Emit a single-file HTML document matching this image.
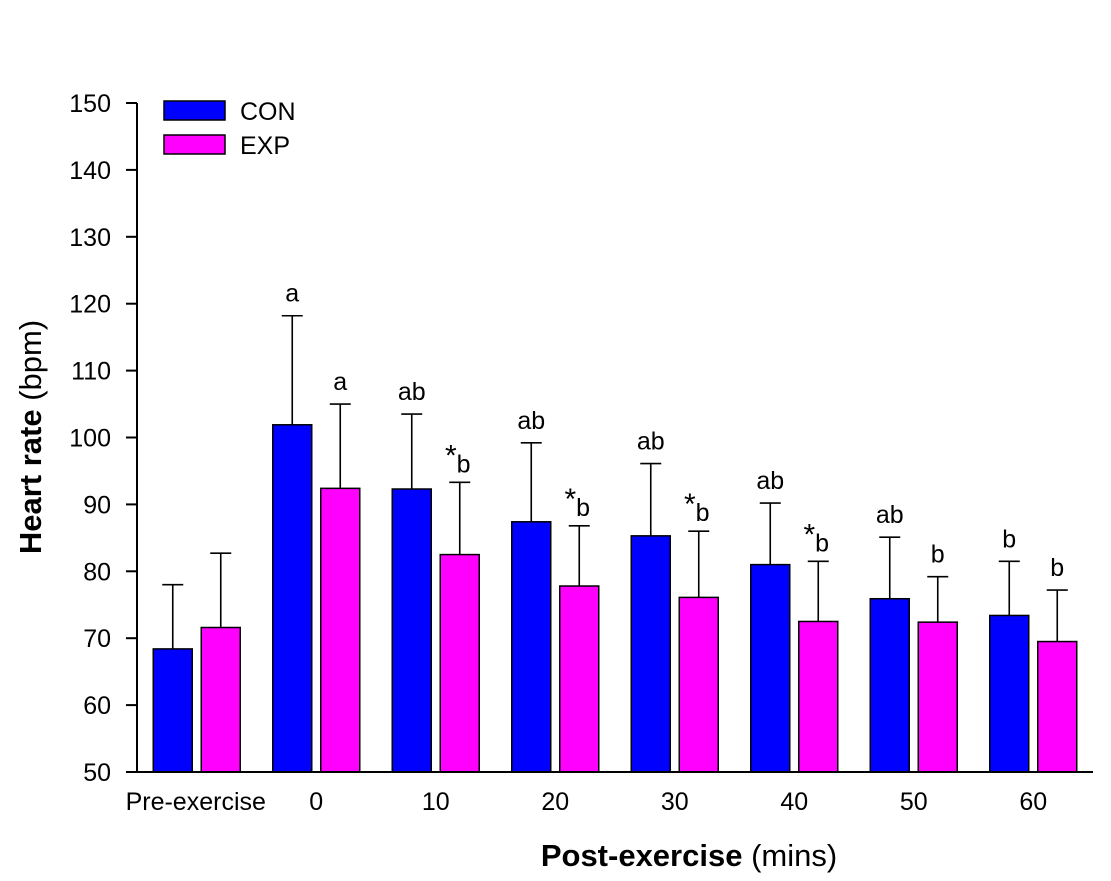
<!DOCTYPE html>
<html><head><meta charset="utf-8"><style>
html,body{margin:0;padding:0;background:#fff;}
svg{display:block;font-family:"Liberation Sans",Arial,sans-serif;}
</style></head><body>
<svg id="chart" width="1111" height="881" viewBox="0 0 1111 881"></svg>
<script>
const categories = ["Pre-exercise","0","10","20","30","40","50","60"];
const conValues = [68.4,101.9,92.3,87.4,85.3,81.0,75.9,73.4];
const conErrTop = [78.0,118.2,103.5,99.2,96.1,90.2,85.1,81.5];
const expValues = [71.6,92.4,82.5,77.8,76.1,72.5,72.4,69.5];
const expErrTop = [82.7,105.0,93.3,86.8,86.0,81.5,79.2,77.2];
const conLabels = ["","a","ab","ab","ab","ab","ab","b"];
const expLabels = ["","a","*b","*b","*b","*b","b","b"];
const yTicks = [50,60,70,80,90,100,110,120,130,140,150];

const NS="http://www.w3.org/2000/svg";
const svg=document.getElementById('chart');
const X0=137,X1=1093,Y0=772,Y1=103,YMIN=50,YMAX=150;
const pitch=(X1-X0)/categories.length;
const y=v=>Y0-(v-YMIN)/(YMAX-YMIN)*(Y0-Y1);
const gx=i=>X0+pitch*(i+0.5);
function el(t,a,txt){const e=document.createElementNS(NS,t);for(const k in a)e.setAttribute(k,a[k]);if(txt!==undefined)e.textContent=txt;svg.appendChild(e);return e;}

const BW=39;
function series(vals,tops,labels,off,color,name){
  vals.forEach((v,i)=>{
    const cx=gx(i)+off;
    const ey=y(tops[i]);
    let l=el('line',{x1:cx,x2:cx,y1:y(v),y2:ey,stroke:'#000','stroke-width':1.6});
    
    
    l=el('line',{x1:cx-10.5,x2:cx+10.5,y1:ey,y2:ey,stroke:'#000','stroke-width':1.6});
    
    
    const r=el('rect',{x:cx-BW/2,y:y(v),width:BW,height:Y0-y(v),fill:color,stroke:'#000','stroke-width':1.5});
    
    
    if(labels[i]){
      const t=el('text',{x:cx+(labels[i][0]==='*'?-2:0),y:ey-14,'font-size':25,'text-anchor':'middle'});
      
      
      if(labels[i][0]==='*'){
        const s=document.createElementNS(NS,'tspan');s.setAttribute('font-size',30);s.setAttribute('dy','-3');s.textContent='*';t.appendChild(s);
        const b=document.createElementNS(NS,'tspan');b.setAttribute('dy','7');b.textContent=labels[i].slice(1);t.appendChild(b);
      } else t.textContent=labels[i];
    }
  });
}
series(conValues,conErrTop,conLabels,-24,'#0000ff','con');
series(expValues,expErrTop,expLabels,24,'#ff00ff','exp');

let a=el('line',{x1:X0,x2:X0,y1:Y0,y2:Y1,stroke:'#000','stroke-width':2});

a=el('line',{x1:126,x2:X1,y1:Y0,y2:Y0,stroke:'#000','stroke-width':2});

yTicks.forEach(v=>{
  const t=el('line',{x1:126,x2:X0,y1:y(v),y2:y(v),stroke:'#000','stroke-width':2});
  
  const l=el('text',{x:111,y:y(v)+9,'font-size':25,'text-anchor':'end'},v);
  
});
categories.forEach((c,i)=>{
  const l=el('text',{x:i===0?gx(i)-1:gx(i),y:810,'font-size':25,'text-anchor':'middle'},c);
  
});

let t=el('text',{x:689,y:866,'font-size':31,'text-anchor':'middle'});

t.innerHTML='<tspan font-weight="bold">Post-exercise</tspan> (mins)';
t=el('text',{x:0,y:0,'font-size':31,'text-anchor':'middle',transform:'translate(41,437) rotate(-90)'});

t.innerHTML='<tspan font-weight="bold">Heart rate</tspan> (bpm)';

[['CON','#0000ff',101],['EXP','#ff00ff',135]].forEach(([n,c,yy])=>{
  const r=el('rect',{x:164,y:yy,width:61,height:19,fill:c,stroke:'#000','stroke-width':1.5});
  
  const l=el('text',{x:240,y:yy+19,'font-size':25},n);
  
});
</script>
</body></html>
